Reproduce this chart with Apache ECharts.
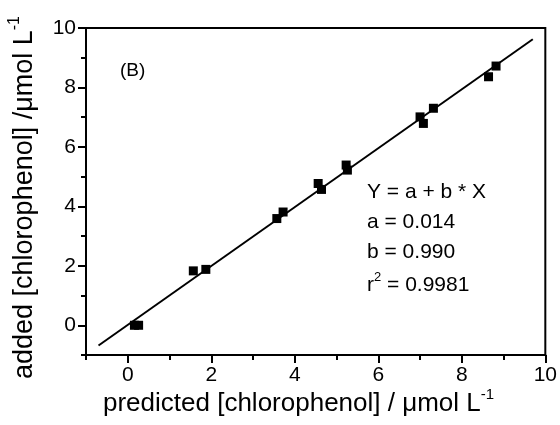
<!DOCTYPE html>
<html>
<head>
<meta charset="utf-8">
<script src="https://cdn.jsdelivr.net/npm/echarts@6/dist/echarts.min.js"></script>
<style>
  html, body { margin: 0; padding: 0; background: #fff; }
  #chart { width: 560px; height: 425px; }
</style>
</head>
<body>
<div id="chart"></div>
<script>
// predicted vs added chlorophenol (umol/L)
const predicted = [0.16, 0.26, 1.57, 1.87, 3.57, 3.72, 4.56, 4.64, 5.23, 5.26, 7.0, 7.08, 7.32, 8.64, 8.82];
const added     = [0.0,  0.0,  1.83, 1.88, 3.59, 3.81, 4.77, 4.57, 5.39, 5.22, 7.01, 6.79, 7.30, 8.36, 8.72];

// fitted line end points
const fitX = [-0.7, 9.7];
const fitY = [-0.68, 9.62];

const majorTicks = [0, 2, 4, 6, 8, 10];
const minorTicks = [-1, 1, 3, 5, 7, 9];

const fitText = ['Y = a + b * X', 'a = 0.014', 'b = 0.990', 'r{sup|2} = 0.9981'];

const FONT = '"Liberation Sans", Arial, sans-serif';

const chart = echarts.init(document.getElementById('chart'));

// main axis: line + labels
function mainAxis(position) {
  return {
    type: 'value',
    position: position,
    min: -1,
    max: 10,
    interval: 1,
    axisLine: { show: true, onZero: false, lineStyle: { color: '#000', width: 2 } },
    axisTick: { show: false },
    splitLine: { show: false },
    axisLabel: { color: '#000', fontSize: 21, fontFamily: FONT, margin: 10, customValues: majorTicks }
  };
}

// extra axes that only draw ticks
function tickAxis(position, values, len) {
  return {
    type: 'value',
    position: position,
    min: -1,
    max: 10,
    interval: 1,
    axisLine: { show: false, onZero: false },
    axisTick: { show: true, inside: false, length: len, customValues: values, lineStyle: { color: '#000', width: 2 } },
    axisLabel: { show: false },
    splitLine: { show: false }
  };
}

const supStyle = (size, lh) => ({ fontSize: size, fontFamily: FONT, fill: '#000', verticalAlign: 'top', lineHeight: lh });

const option = {
  animation: false,
  backgroundColor: '#fff',
  grid: { left: 86, top: 28, right: 14, bottom: 70, show: true, borderColor: '#000', borderWidth: 2 },
  xAxis: [mainAxis('bottom'), tickAxis('bottom', majorTicks, 8), tickAxis('bottom', minorTicks, 5)],
  yAxis: [mainAxis('left'), tickAxis('left', majorTicks, 8), tickAxis('left', minorTicks, 5)],
  graphic: [
    { type: 'text', left: 120, top: 61, style: { text: '(B)', fontSize: 19, fontFamily: FONT, fill: '#000' } },
    { type: 'text', left: 367, top: 182, style: { text: fitText[0], fontSize: 21, fontFamily: FONT, fill: '#000' } },
    { type: 'text', left: 367, top: 212, style: { text: fitText[1], fontSize: 21, fontFamily: FONT, fill: '#000' } },
    { type: 'text', left: 367, top: 242, style: { text: fitText[2], fontSize: 21, fontFamily: FONT, fill: '#000' } },
    { type: 'text', left: 367, top: 271, style: {
        text: fitText[3], fontSize: 21, fontFamily: FONT, fill: '#000',
        rich: { sup: supStyle(13, 28) } } },
    { type: 'text', left: 103, top: 387, style: {
        text: 'predicted [chlorophenol] / μmol L{sup|-1}', fontSize: 26, fontFamily: FONT, fill: '#000',
        rich: { sup: supStyle(15, 34) } } },
    { type: 'text', x: 7, y: 379, rotation: Math.PI / 2, style: {
        text: 'added [chlorophenol] /μmol L{sup|-1}', fontSize: 27, fontFamily: FONT, fill: '#000',
        rich: { sup: supStyle(16, 36) } } }
  ],
  series: [
    {
      type: 'line',
      data: fitX.map((x, i) => [x, fitY[i]]),
      symbol: 'none',
      lineStyle: { color: '#000', width: 2 },
      z: 2
    },
    {
      type: 'scatter',
      data: predicted.map((x, i) => [x, added[i]]),
      symbol: 'rect',
      symbolSize: 9,
      itemStyle: { color: '#000', opacity: 1 },
      z: 3
    }
  ]
};

chart.setOption(option);
</script>
</body>
</html>
